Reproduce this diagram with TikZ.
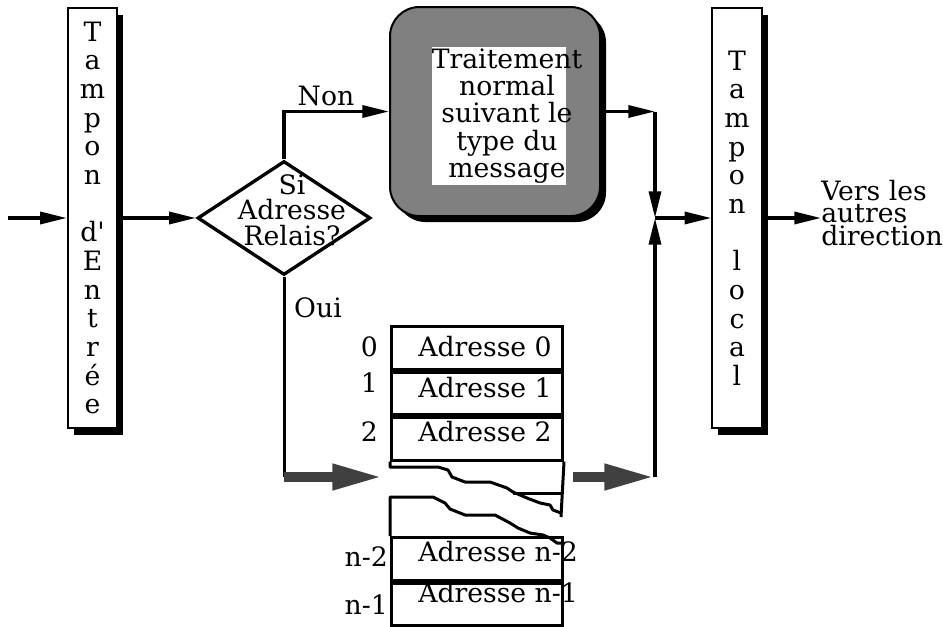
\documentclass[tikz,border=0pt]{standalone}
\usepackage{fontspec}
\setmainfont{DejaVu Serif}
\usetikzlibrary{arrows.meta, shapes.geometric, shadows}

\begin{document}
\begin{tikzpicture}[x=0.75pt, y=-0.75pt,
    every node/.style={font=\fontsize{20}{21.5}\selectfont},
    buffer/.style={draw, line width=1.5pt, fill=white, minimum width=37pt, minimum height=315pt,
      align=center, inner sep=0pt,
      drop shadow={shadow xshift=4.5pt, shadow yshift=-5pt, fill=black, opacity=1}},
    decision/.style={diamond, draw, line width=2.5pt, minimum width=129.75pt, minimum height=85.5pt, inner sep=0pt},
    procbox/.style={draw, line width=1.5pt, fill=black!50, rounded corners=22pt,
      minimum width=157.5pt, minimum height=156.75pt,
      drop shadow={shadow xshift=4.5pt, shadow yshift=-4.5pt, fill=black, opacity=1}},
    row/.style={draw, line width=2.25pt, minimum width=128.25pt, minimum height=31.9pt, inner sep=0pt, anchor=north west},
    addr/.style={anchor=west, inner sep=0pt},
    idx/.style={anchor=east, inner sep=0pt},
    arr/.style={-{Triangle[length=20pt, width=9pt]}, line width=2.5pt},
    bigarr/.style={-{Triangle[length=38pt, width=18pt]}, line width=7.5pt, black!75},
    link/.style={line width=2.25pt, line join=round}
  ]
  \useasboundingbox (0,0) rectangle (943,626);
  % input buffer
  \coordinate (src) at (8,218);
  \node[buffer] (inbuf) at (92.5,218)
    {T\\a\\m\\p\\o\\n\\~\\d\textquotesingle\\E\\n\\t\\r\\é\\e};
  \draw[arr] (src) -- (inbuf.west);
  % relay address test
  \node[decision] (test) at (284,218) {};
  \node[align=center, font=\fontsize{20}{19}\selectfont] (testtxt) at (292,210) {Si\\Adresse\\Relais?};
  \draw[arr] (inbuf.east) -- (test.west);
  % normal processing
  \node[procbox] (proc) at (495,111.5) {};
  \node[fill=white, minimum width=100.5pt, minimum height=103.5pt, inner sep=0pt] (procbg) at (499,116) {};
  \node[align=center, font=\fontsize{20}{20.5}\selectfont] (proctxt) at (507,116)
    {Traitement\\normal\\suivant le\\type du\\message};
  \draw[arr] (test.north) |- (proc.west) node[pos=0.7, above] (lnon) {Non};
  % local buffer
  \node[buffer] (outbuf) at (737,218) {T\\a\\m\\p\\o\\n\\~\\l\\o\\c\\a\\l};
  \coordinate (jtop) at (655,111.5);
  \coordinate (merge) at (655,218);
  \coordinate (jbot) at (655,477);
  \draw[arr] (proc.east) -- (jtop);
  \draw[arr] (jtop) -- (merge);
  \draw[arr] (jbot) -- (merge);
  \draw[arr] (merge) -- (outbuf.west);
  \node[anchor=west, inner sep=0pt, align=left, font=\fontsize{20}{17}\selectfont] (dest) at (821,213)
    {Vers les\\autres\\directions};
  \draw[arr] (outbuf.east) -- (outbuf.east -| dest.west);
  % relay table
  \node[row] (r0) at (390,325) {};
  \node[row] (r1) at (r0.south west) {};
  \node[row] (r2) at (r1.south west) {};
  \node[row] (rn2) at (390,536) {};
  \node[row] (rn1) at (rn2.south west) {};
  \node[addr] (a0) at (418,347) {Adresse 0};
  \node[addr] (a1) at (418,388) {Adresse 1};
  \node[addr] (a2) at (418,432) {Adresse 2};
  \node[addr] (an2) at (418,552) {Adresse n-2};
  \node[addr] (an1) at (418,593) {Adresse n-1};
  \node[idx] (i0) at (378,347) {0};
  \node[idx] (i1) at (378,383) {1};
  \node[idx] (i2) at (378,432) {2};
  \node[idx] (in2) at (388,557) {n-2};
  \node[idx] (in1) at (388,605) {n-1};
  % torn part of the table
  \draw[link] (r2.south west) -- (390,467) -- (438,467) -- (448,470) -- (452,477) -- (465,482)
    -- (490,482) -- (507,488) -- (513,492) -- (527,498) -- (540,503) -- (550,505) -- (553,510) -- (561,513);
  \draw[link] (r2.south east) -- (561,517);
  \draw[link] (513,493) -- (561,493);
  \draw[link] (rn2.north west) -- (390,497) -- (433,497) -- (445,503) -- (450,509) -- (465,515)
    -- (495,515) -- (510,523) -- (518,528) -- (530,533) -- (543,535) -- (550,538) -- (557,543) -- (561,543);
  % Oui branch
  \coordinate (oui) at (284,477);
  \coordinate (tabin) at (383,477);
  \coordinate (tabout) at (573,477);
  \draw[link] (test.south) -- (oui);
  \node (loui) at (318,308) {Oui};
  \draw[bigarr] (oui) -- (tabin);
  \draw[bigarr] (tabout) -- (jbot);
\end{tikzpicture}
\end{document}
